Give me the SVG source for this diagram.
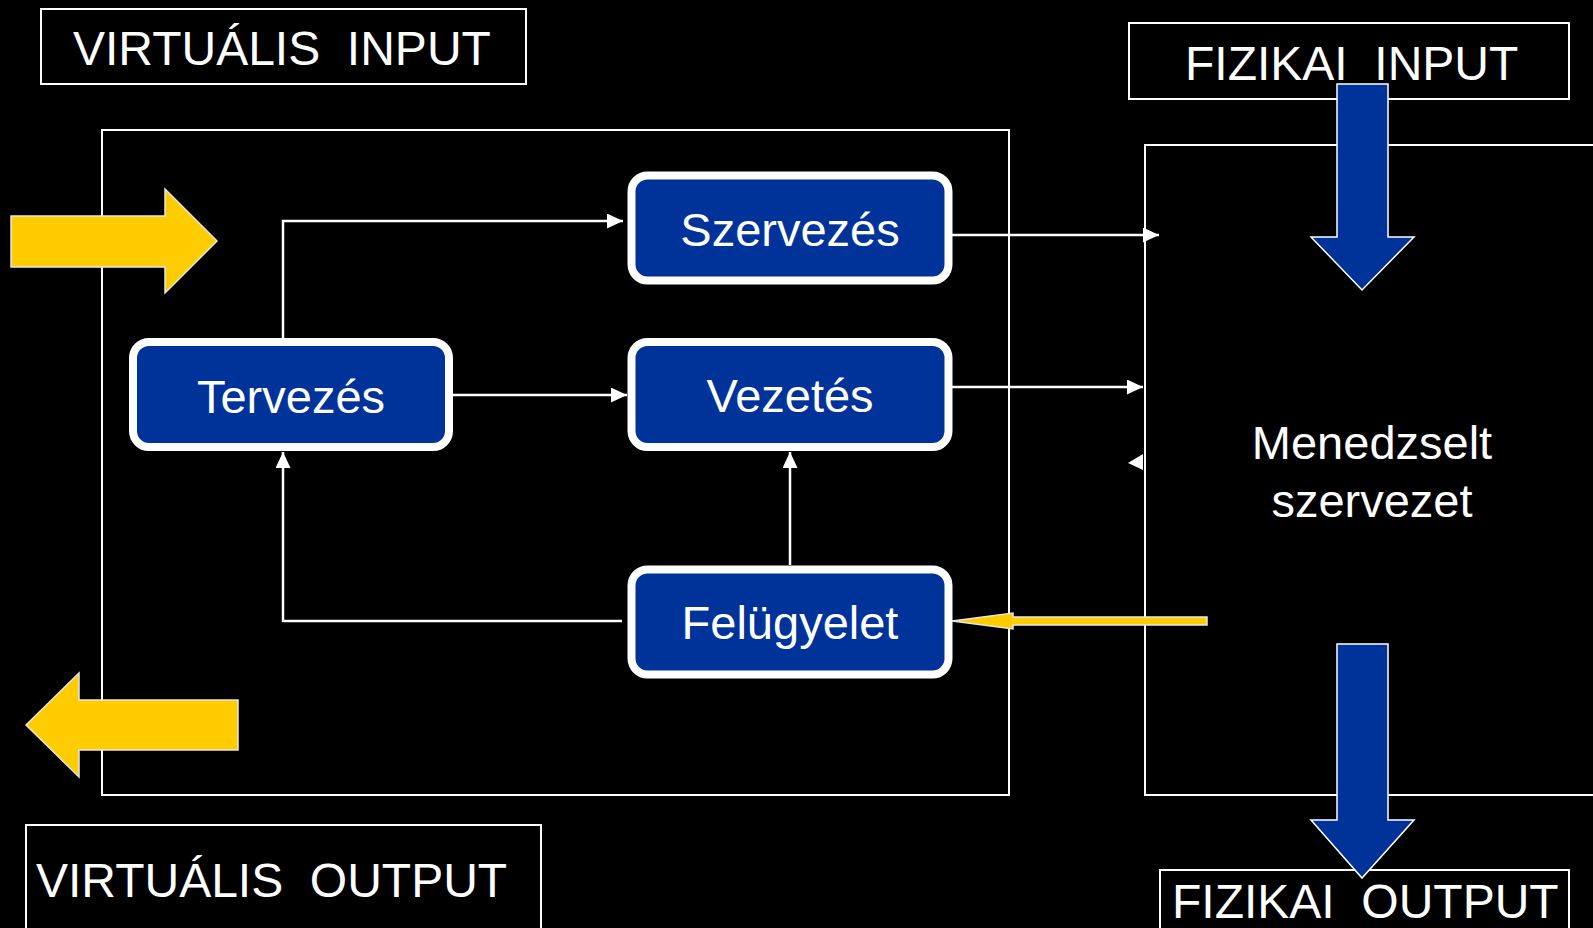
<svg xmlns="http://www.w3.org/2000/svg" width="1593" height="928" viewBox="0 0 1593 928">
<defs>
<style>
.frame{fill:none;stroke:#fff;stroke-width:2}
.node rect{fill:#003399;stroke:#fff;stroke-width:8}
.lbl{font-family:"Liberation Sans",Arial,sans-serif;fill:#fff;font-size:47px}
.big{font-family:"Liberation Sans",Arial,sans-serif;fill:#fff;font-size:48px;white-space:pre}
.conn{fill:none;stroke:#fff;stroke-width:2.5}
.yel{fill:#FFCC00;stroke:#e6e6e6;stroke-width:1.5}
.blue{fill:#003399;stroke:#fff;stroke-width:1.5}
</style>
<marker id="ah" markerUnits="userSpaceOnUse" markerWidth="16" markerHeight="15" refX="16" refY="7.5" orient="auto">
<path d="M0,0 L16,7.5 L0,15 z" fill="#fff"/>
</marker>
</defs>
<rect x="0" y="0" width="1593" height="928" fill="#000"/>

<g id="frame-virtual">
<rect class="frame" x="102" y="130" width="907" height="665"/>
</g>
<g id="menedzselt">
<rect class="frame" x="1145" y="145" width="460" height="650"/>
<text class="lbl" x="1372" y="459" text-anchor="middle">Menedzselt</text>
<text class="lbl" x="1372" y="517" text-anchor="middle">szervezet</text>
</g>

<g id="virtualis-input">
<rect class="frame" x="41" y="9" width="485" height="75"/>
<text class="big" x="73" y="65" xml:space="preserve">VIRTUÁLIS  INPUT</text>
</g>
<g id="virtualis-output">
<rect class="frame" x="26" y="825" width="515" height="110"/>
<text class="big" x="36" y="897" xml:space="preserve">VIRTUÁLIS  OUTPUT</text>
</g>
<g id="fizikai-input">
<rect class="frame" x="1129" y="23" width="440" height="76"/>
<text class="big" x="1185" y="80" xml:space="preserve">FIZIKAI  INPUT</text>
</g>
<g id="fizikai-output">
<rect class="frame" x="1160" y="870" width="409" height="70"/>
<text class="big" x="1172" y="918" xml:space="preserve">FIZIKAI  OUTPUT</text>
</g>

<g id="connectors">
<path class="conn" d="M283,338 V221 H623" marker-end="url(#ah)"/>
<path class="conn" d="M453,395 H627" marker-end="url(#ah)"/>
<path class="conn" d="M790,565 V452" marker-end="url(#ah)"/>
<path class="conn" d="M622,621 H283 V452" marker-end="url(#ah)"/>
<path class="conn" d="M952,235 H1159" marker-end="url(#ah)"/>
<path class="conn" d="M952,387 H1143" marker-end="url(#ah)"/>
<polygon points="1128,463 1143,454 1143,470" fill="#fff"/>
<polygon class="yel" points="1207,617 1013,617 1013,613 952,621 1013,629 1013,625 1207,625"/>
</g>

<g id="virtual-in-arrow">
<polygon class="yel" points="11,216 165,216 165,189 217,241 165,293 165,267 11,267"/>
</g>
<g id="virtual-out-arrow">
<polygon class="yel" points="26,725 79,673 79,700 238,700 238,750 79,750 79,777"/>
</g>
<g id="physical-in-arrow">
<polygon class="blue" points="1337,84 1388,84 1388,237 1414,237 1362,290 1311,237 1337,237"/>
</g>
<g id="physical-out-arrow">
<polygon class="blue" points="1337,644 1388,644 1388,820 1414,820 1362,878 1311,820 1337,820"/>
</g>

<g id="tervezes" class="node">
<rect x="133" y="342" width="316" height="105" rx="16"/>
<text class="lbl" x="291" y="413" text-anchor="middle">Tervezés</text>
</g>
<g id="szervezes" class="node">
<rect x="631.5" y="175.5" width="317" height="105" rx="16"/>
<text class="lbl" x="790" y="246" text-anchor="middle">Szervezés</text>
</g>
<g id="vezetes" class="node">
<rect x="631.5" y="342" width="317" height="105" rx="16"/>
<text class="lbl" x="790" y="412" text-anchor="middle">Vezetés</text>
</g>
<g id="felugyelet" class="node">
<rect x="631.5" y="569.5" width="317" height="105" rx="16"/>
<text class="lbl" x="790" y="639" text-anchor="middle">Felügyelet</text>
</g>
</svg>
